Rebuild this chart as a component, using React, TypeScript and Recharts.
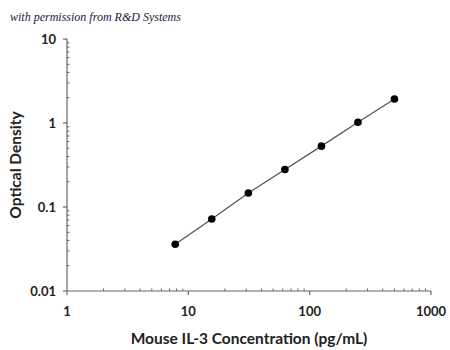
import React from 'react';
import { ComposedChart, Line, XAxis, YAxis } from 'recharts';

const concentrations = [7.8, 15.6, 31.25, 62.5, 125, 250, 500];
const opticalDensity = [0.036, 0.072, 0.147, 0.28, 0.53, 1.02, 1.93];

const xMajorTicks = [1, 10, 100, 1000];
const yMajorTicks = [0.01, 0.1, 1, 10];
const minorSteps = [2, 3, 4, 5, 6, 7, 8, 9];

const xMinorTicks = xMajorTicks.slice(0, -1).flatMap((d) => minorSteps.map((m) => d * m));
const yMinorTicks = yMajorTicks.slice(0, -1).flatMap((d) => minorSteps.map((m) => +(d * m).toFixed(3)));

const data = concentrations.map((c, i) => ({ conc: c, od: opticalDensity[i] }));

const FONT = 'Lato, "Open Sans", sans-serif';
const AXIS = '#666';
const TICK_GAP = 8;

const isMajor = (v: number, majors: number[]) => majors.some((m) => Math.abs(m - v) < 1e-9);

const XTick = (props: any) => {
  const { x, y, payload } = props;
  const v = payload.value;
  const axisY = y - TICK_GAP;
  if (isMajor(v, xMajorTicks)) {
    return (
      <g>
        <line x1={x} x2={x} y1={axisY} y2={axisY + 4} stroke={AXIS} strokeWidth={1.2} />
        <text x={x} y={axisY + 25} textAnchor="middle" fontFamily={FONT} fontWeight={700} fontSize={13} fill="#222">
          {v}
        </text>
      </g>
    );
  }
  return <line x1={x} x2={x} y1={axisY} y2={axisY - 2.5} stroke={AXIS} strokeWidth={1} />;
};

const YTick = (props: any) => {
  const { x, y, payload } = props;
  const v = payload.value;
  const axisX = x + TICK_GAP;
  if (isMajor(v, yMajorTicks)) {
    return (
      <g>
        <line x1={axisX} x2={axisX - 4} y1={y} y2={y} stroke={AXIS} strokeWidth={1.2} />
        <text x={axisX - 11} y={y + 5} textAnchor="end" fontFamily={FONT} fontWeight={700} fontSize={13} fill="#222">
          {v}
        </text>
      </g>
    );
  }
  return <line x1={axisX} x2={axisX + 2.5} y1={y} y2={y} stroke={AXIS} strokeWidth={1} />;
};

export default function App() {
  return (
    <div style={{ position: 'absolute', left: 0, top: 0, width: 450, height: 350, background: '#fff' }}>
      <div
        style={{
          position: 'absolute',
          left: 10,
          top: 10,
          fontFamily: '"Liberation Serif", serif',
          fontStyle: 'italic',
          fontSize: 12,
          color: '#1a1a3a',
        }}
      >
        with permission from R&amp;D Systems
      </div>
      <ComposedChart width={450} height={350} data={data} margin={{ top: 39, right: 19, left: 0, bottom: 0 }}>
        <XAxis
          dataKey="conc"
          type="number"
          scale="log"
          domain={[1, 1000]}
          ticks={[...xMajorTicks, ...xMinorTicks]}
          interval={0}
          height={59}
          tickSize={0}
          tickMargin={TICK_GAP}
          tickLine={false}
          stroke={AXIS}
          strokeWidth={1.2}
          tick={<XTick />}
          allowDataOverflow
          label={{
            value: 'Mouse IL-3 Concentration (pg/mL)',
            position: 'insideBottom',
            offset: 6,
            style: { fontFamily: FONT, fontWeight: 700, fontSize: 15.5, fill: '#222' },
          }}
        />
        <YAxis
          dataKey="od"
          type="number"
          scale="log"
          domain={[0.01, 10]}
          ticks={[...yMajorTicks, ...yMinorTicks]}
          interval={0}
          width={67}
          tickSize={0}
          tickMargin={TICK_GAP}
          tickLine={false}
          stroke={AXIS}
          strokeWidth={1.2}
          tick={<YTick />}
          allowDataOverflow
          label={{
            value: 'Optical Density',
            angle: -90,
            position: 'insideLeft',
            offset: 15,
            style: { fontFamily: FONT, fontWeight: 700, fontSize: 15.5, fill: '#222', textAnchor: 'middle' },
          }}
        />
        <Line
          dataKey="od"
          stroke="#555"
          strokeWidth={1.3}
          dot={{ r: 3.8, fill: '#000', stroke: '#000', strokeWidth: 0 }}
          isAnimationActive={false}
        />
      </ComposedChart>
    </div>
  );
}
